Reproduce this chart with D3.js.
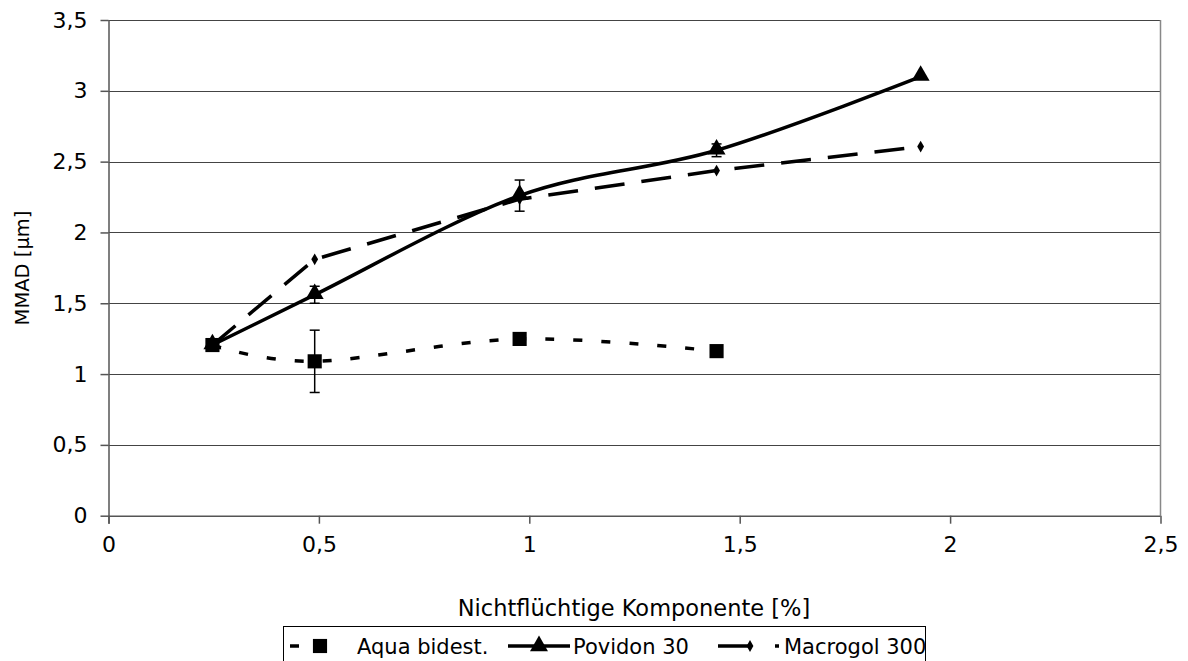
<!DOCTYPE html>
<html><head><meta charset="utf-8">
<script src="https://cdn.jsdelivr.net/npm/d3@7"></script>
<style>body{margin:0;background:#fff}svg{display:block}text{font-family:"DejaVu Sans",Verdana,sans-serif}</style>
</head><body><svg id="c" width="1188" height="661"></svg>
<script>
const xValues = [0.247, 0.49, 0.977, 1.445, 1.93];
const aquaY = [1.205, 1.09, 1.248, 1.162];
const aquaErr = [0, 0.22, 0, 0];
const povidonY = [1.205, 1.56, 2.26, 2.58, 3.10];
const povidonErr = [0, 0.06, 0.11, 0.045, 0];
const macrogolY = [1.205, 1.81, 2.235, 2.437, 2.606];
const xTicks = [0, 0.5, 1, 1.5, 2, 2.5];
const yTicks = [0, 0.5, 1, 1.5, 2, 2.5, 3, 3.5];
const seriesNames = ["Aqua bidest.", "Povidon 30", "Macrogol 300"];
const fmt = v => String(v).replace(".", ",");

const svg = d3.select("#c");
const L = 108.5, R = 1160.5, T = 20, B = 515.7;
const x = d3.scaleLinear().domain([0, 2.5]).range([L, R]);
const y = d3.scaleLinear().domain([0, 3.5]).range([B, T]);

svg.append("g").selectAll("line").data(yTicks.filter(d => d > 0)).join("line")
  .attr("x1", L).attr("x2", R).attr("y1", d => Math.round(y(d)) + 0.5).attr("y2", d => Math.round(y(d)) + 0.5)
  .attr("stroke", "#444").attr("stroke-width", 1);
svg.append("line").attr("x1", R).attr("x2", R).attr("y1", T).attr("y2", B).attr("stroke", "#888").attr("stroke-width", 1.5);

const xAxis = d3.axisBottom(x).tickValues(xTicks).tickFormat(fmt).tickSize(8).tickPadding(13);
const gx = svg.append("g").attr("transform", `translate(0,${B})`).call(xAxis);
const yAxis = d3.axisLeft(y).tickValues(yTicks).tickFormat(fmt).tickSize(8).tickPadding(13);
const gy = svg.append("g").attr("transform", `translate(${L},0)`).call(yAxis);
[gx, gy].forEach(g => {
  g.attr("font-size", 22).attr("font-family", "DejaVu Sans");
  g.select(".domain").attr("stroke", "#555").attr("stroke-width", 1.5);
  g.selectAll(".tick line").attr("stroke", "#555").attr("stroke-width", 1.5);
  g.selectAll("text").attr("fill", "#000");
});
gx.select(".domain").attr("d", `M${L},0.5H${R}`);
gy.select(".domain").attr("d", `M0.5,${B + 8}V${T}`);

svg.append("text").attr("x", 634).attr("y", 616).attr("text-anchor", "middle").attr("font-size", 22.5).text("Nichtflüchtige Komponente [%]");
svg.append("text").attr("transform", `translate(29,268) rotate(-90)`).attr("text-anchor", "middle").attr("font-size", 19.5).text("MMAD [µm]");

const smooth = d3.line().x(d => x(d[0])).y(d => y(d[1])).curve(d3.curveCatmullRom.alpha(0));
const straight = d3.line().x(d => x(d[0])).y(d => y(d[1]));
const aqua = aquaY.map((v, i) => [xValues[i], v, aquaErr[i]]);
const pov = povidonY.map((v, i) => [xValues[i], v, povidonErr[i]]);
const mac = macrogolY.map((v, i) => [xValues[i], v, 0]);

function errBars(data) {
  const g = svg.append("g").attr("stroke", "#000").attr("stroke-width", 1.5);
  data.filter(d => d[2] > 0).forEach(d => {
    const cx = x(d[0]);
    g.append("line").attr("x1", cx).attr("x2", cx).attr("y1", y(d[1] - d[2])).attr("y2", y(d[1] + d[2]));
    g.append("line").attr("x1", cx - 5).attr("x2", cx + 5).attr("y1", y(d[1] - d[2])).attr("y2", y(d[1] - d[2]));
    g.append("line").attr("x1", cx - 5).attr("x2", cx + 5).attr("y1", y(d[1] + d[2])).attr("y2", y(d[1] + d[2]));
  });
}
errBars(aqua); errBars(pov);

svg.append("path").attr("d", straight(mac)).attr("fill", "none").attr("stroke", "#000").attr("stroke-width", 3.5).attr("stroke-dasharray", "30,17");
svg.append("path").attr("d", smooth(pov)).attr("fill", "none").attr("stroke", "#000").attr("stroke-width", 3.5);
svg.append("path").attr("d", smooth(aqua)).attr("fill", "none").attr("stroke", "#000").attr("stroke-width", 3.5).attr("stroke-dasharray", "9,19");

const sq = d3.symbol(d3.symbolSquare, 200);
const tri = d3.symbol(d3.symbolTriangle, 140);
const dia = d3.symbol(d3.symbolDiamond, 40);
svg.append("g").selectAll("path").data(aqua).join("path").attr("d", sq).attr("transform", d => `translate(${x(d[0])},${y(d[1])})`);
svg.append("g").selectAll("path").data(pov).join("path").attr("d", tri).attr("transform", d => `translate(${x(d[0])},${y(d[1]) - 1})`);
svg.append("g").selectAll("path").data(mac).join("path").attr("d", dia).attr("transform", d => `translate(${x(d[0])},${y(d[1])})`);

const lg = svg.append("g");
lg.append("rect").attr("x", 283.5).attr("y", 626.5).attr("width", 642).attr("height", 50).attr("fill", "#fff").attr("stroke", "#000").attr("stroke-width", 1);
const ly = 646;
const items = [
  {x0: 290, x1: 334, mx: 320, dash: "9,19", sym: sq, tx: 357},
  {x0: 508, x1: 570, mx: 539, dash: null, sym: tri, tx: 573},
  {x0: 718, x1: 779, mx: 750, dash: "32,25,4", sym: dia, tx: 784}
];
items.forEach((it, i) => {
  const p = lg.append("line").attr("x1", it.x0).attr("x2", it.x1).attr("y1", ly).attr("y2", ly).attr("stroke", "#000").attr("stroke-width", 3.5);
  if (it.dash) p.attr("stroke-dasharray", it.dash);
  lg.append("path").attr("d", it.sym).attr("transform", `translate(${it.mx},${ly})`);
  lg.append("text").attr("x", it.tx).attr("y", ly + 8).attr("font-size", 21).text(seriesNames[i]);
});
</script></body></html>
